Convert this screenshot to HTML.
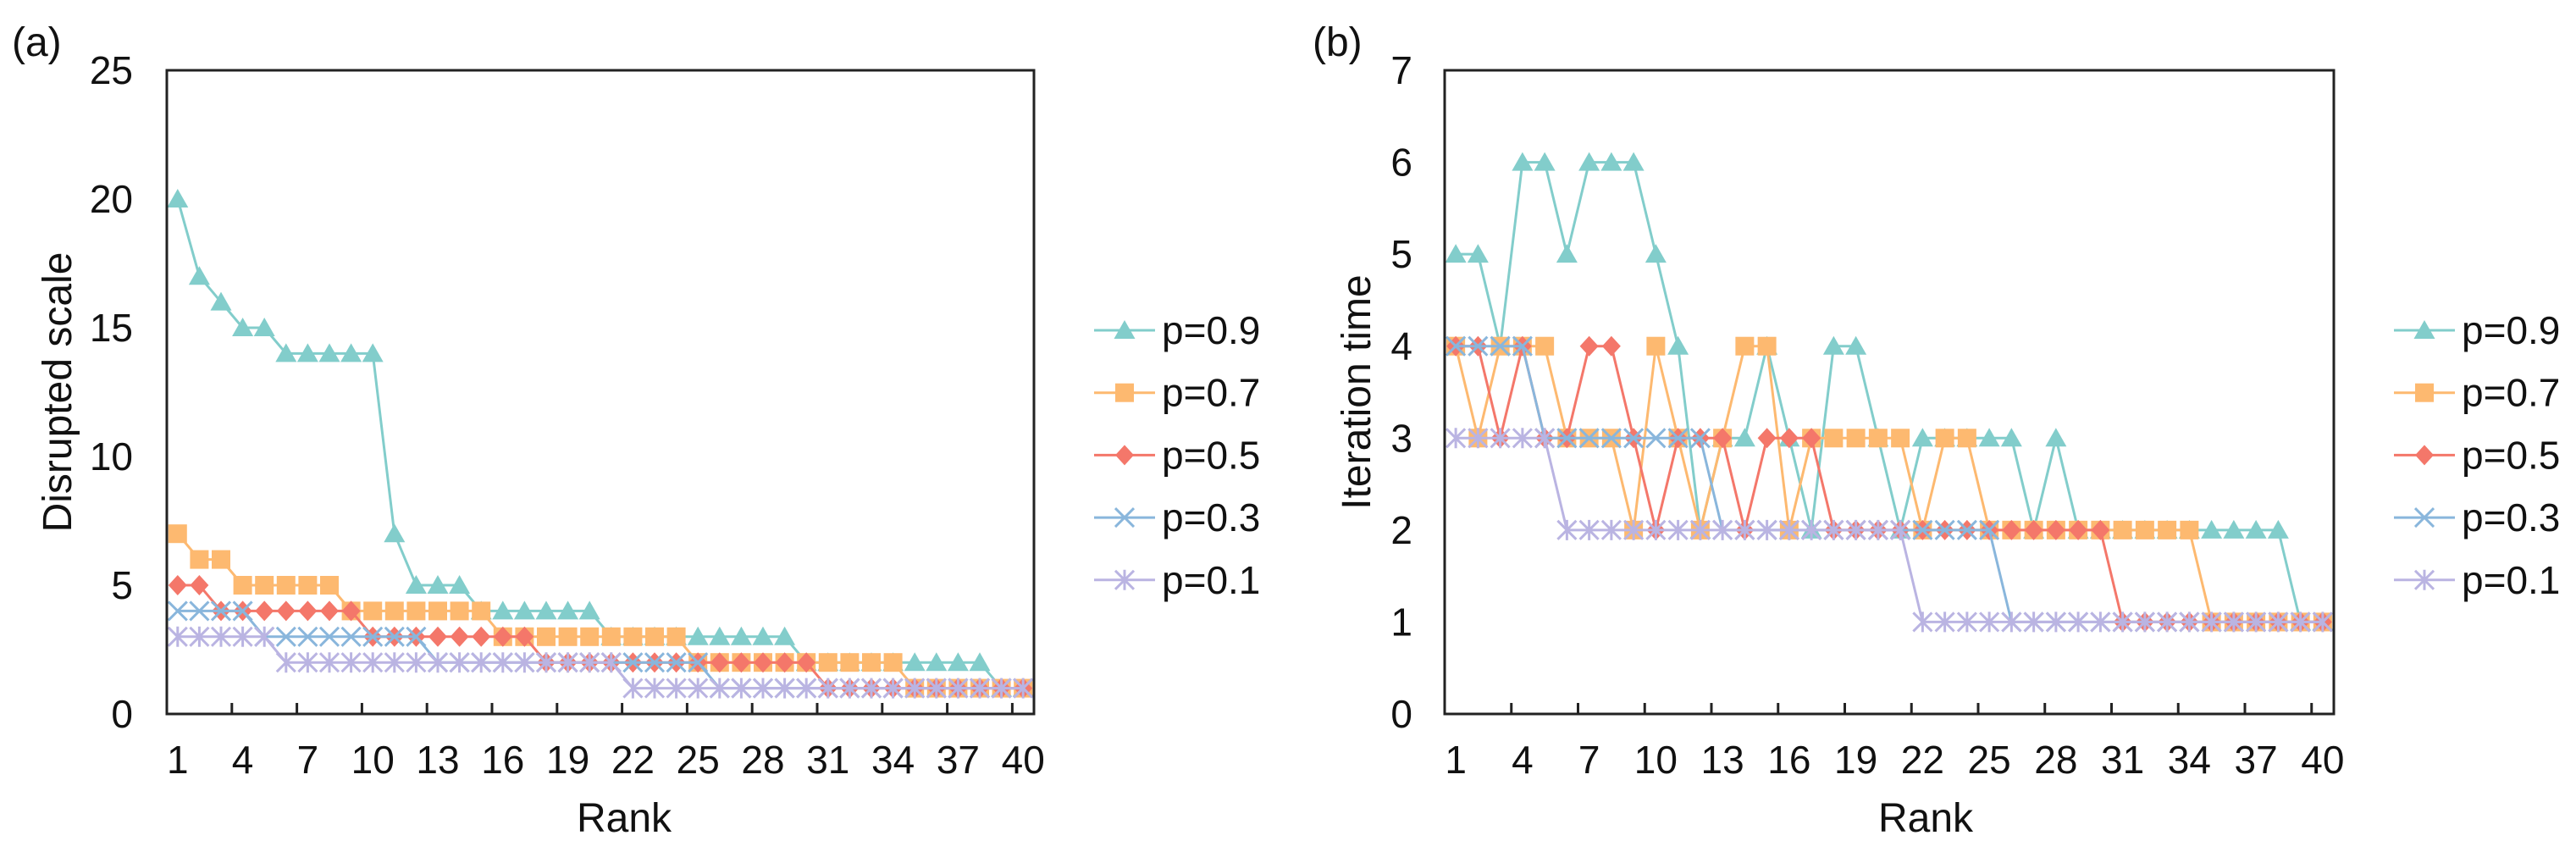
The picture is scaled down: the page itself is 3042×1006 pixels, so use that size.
<!DOCTYPE html>
<html><head><meta charset="utf-8"><style>
html,body{margin:0;padding:0;background:#fff;}
svg{display:block;font-family:"Liberation Sans",Arial,sans-serif;}
</style></head><body>
<svg id="fig" width="3042" height="1006" viewBox="0 0 3042 1006" xmlns="http://www.w3.org/2000/svg"></svg>
<script>
const ranks = Array.from({length:40},(_,i)=>i+1);
const seriesNames = ["p=0.9","p=0.7","p=0.5","p=0.3","p=0.1"];
const colors = ["#82cdcb","#fdb970","#f4776a","#89b6dc","#bab4e2"];
const markers = ["tri","sq","dia","x","star"];
// Panel (a): disrupted scale
const a09 = [20,17,16,15,15,14,14,14,14,14,7,5,5,5,4,4,4,4,4,4,3,3,3,3,3,3,3,3,3,2,2,2,2,2,2,2,2,2,1,1];
const a07 = [7,6,6,5,5,5,5,5,4,4,4,4,4,4,4,3,3,3,3,3,3,3,3,3,2,2,2,2,2,2,2,2,2,2,1,1,1,1,1,1];
const a05 = [5,5,4,4,4,4,4,4,4,3,3,3,3,3,3,3,3,2,2,2,2,2,2,2,2,2,2,2,2,2,1,1,1,1,1,1,1,1,1,1];
const a03 = [4,4,4,4,3,3,3,3,3,3,3,3,2,2,2,2,2,2,2,2,2,2,2,2,2,1,1,1,1,1,1,1,1,1,1,1,1,1,1,1];
const a01 = [3,3,3,3,3,2,2,2,2,2,2,2,2,2,2,2,2,2,2,2,2,1,1,1,1,1,1,1,1,1,1,1,1,1,1,1,1,1,1,1];
// Panel (b): iteration time
const b09 = [5,5,4,6,6,5,6,6,6,5,4,2,3,3,4,3,2,4,4,3,2,3,3,3,3,3,2,3,2,2,2,2,2,2,2,2,2,2,1,1];
const b07 = [4,3,4,4,4,3,3,3,2,4,3,2,3,4,4,2,3,3,3,3,3,2,3,3,2,2,2,2,2,2,2,2,2,2,1,1,1,1,1,1];
const b05 = [4,4,3,4,3,3,4,4,3,2,3,3,3,2,3,3,3,2,2,2,2,2,2,2,2,2,2,2,2,2,1,1,1,1,1,1,1,1,1,1];
const b03 = [4,4,4,4,3,3,3,3,3,3,3,3,2,2,2,2,2,2,2,2,2,2,2,2,2,1,1,1,1,1,1,1,1,1,1,1,1,1,1,1];
const b01 = [3,3,3,3,3,2,2,2,2,2,2,2,2,2,2,2,2,2,2,2,2,1,1,1,1,1,1,1,1,1,1,1,1,1,1,1,1,1,1,1];
const aTicks = [0,5,10,15,20,25];
const bTicks = [0,1,2,3,4,5,6,7];
const xTickLabels = [1,4,7,10,13,16,19,22,25,28,31,34,37,40];

const NS="http://www.w3.org/2000/svg";
const svg=document.getElementById('fig');
function mk(tag,attrs,parent){const e=document.createElementNS(NS,tag);for(const k in attrs)e.setAttribute(k,attrs[k]);(parent||svg).appendChild(e);return e;}

function marker(g,type,x,y,c){
  let e;
  if(type==="tri") e=mk('polygon',{points:`${x},${y-12} ${x-12.5},${y+10} ${x+12.5},${y+10}`,fill:c},g);
  else if(type==="sq") e=mk('rect',{x:x-11,y:y-11,width:22,height:22,fill:c},g);
  else if(type==="dia") e=mk('polygon',{points:`${x},${y-12} ${x+11},${y} ${x},${y+12} ${x-11},${y}`,fill:c},g);
  else if(type==="x"){e=mk('path',{d:`M${x-11} ${y-11}L${x+11} ${y+11}M${x+11} ${y-11}L${x-11} ${y+11}`,stroke:c,'stroke-width':3,fill:'none'},g);}
  else {e=mk('path',{d:`M${x-11} ${y-11}L${x+11} ${y+11}M${x+11} ${y-11}L${x-11} ${y+11}M${x} ${y-12}L${x} ${y+12}`,stroke:c,'stroke-width':3,fill:'none'},g);}
  
  
}

function panel(cfg){
  const {left,right,top,bottom,ymax,yticks,data,ytitle,ytitleX,ylabRight,letter,letterX,rankX,legendX,id}=cfg;
  const g=mk('g',{});
  
  
  const w=(right-left)/ranks.length;
  const xs=r=>left+(r-0.5)*w;
  const ys=v=>bottom-(v/ymax)*(bottom-top);
  data.forEach((arr,si)=>{
    const sg=mk('g',{},g);
    
    
    const pts=arr.map((v,i)=>xs(ranks[i])+','+ys(v)).join(' ');
    const pl=mk('polyline',{points:pts,fill:'none',stroke:colors[si],'stroke-width':3},sg);
    
    
    arr.forEach((v,i)=>marker(sg,markers[si],xs(ranks[i]),ys(v),colors[si]));
  });
  const fr=mk('rect',{x:left,y:top,width:right-left,height:bottom-top,fill:'none',stroke:'#222','stroke-width':3},g);
  
  
  for(let k=3;k<=39;k+=3){
    const tx=left+k*w;
    const t=mk('line',{x1:tx,x2:tx,y1:bottom,y2:bottom-13,stroke:'#222','stroke-width':3},g);
    
    
  }
  xTickLabels.forEach(r=>{
    const t=mk('text',{x:xs(r),y:913,'font-size':46,'text-anchor':'middle',fill:'#111'},g);
    t.textContent=r;
    
    
  });
  yticks.forEach(v=>{
    const t=mk('text',{x:ylabRight,y:ys(v)+16,'font-size':46,'text-anchor':'end',fill:'#111'},g);
    t.textContent=v;
    
    
  });
  const xt=mk('text',{x:rankX,y:982,'font-size':48,'text-anchor':'middle',fill:'#111'},g);
  xt.textContent='Rank';
  
  
  const cy=(top+bottom)/2;
  const yt=mk('text',{x:ytitleX,y:cy,'font-size':48,'text-anchor':'middle',fill:'#111',transform:`rotate(-90 ${ytitleX} ${cy})`},g);
  yt.textContent=ytitle;
  
  
  const lt=mk('text',{x:letterX,y:66,'font-size':48,fill:'#111'},g);
  lt.textContent=letter;
  
  
  const lg=mk('g',{},g);
  
  
  seriesNames.forEach((n,i)=>{
    const ly=390+i*73.7;
    const eg=mk('g',{},lg);
    
    
    mk('line',{x1:legendX,x2:legendX+72,y1:ly,y2:ly,stroke:colors[i],'stroke-width':3},eg);
    marker(eg,markers[i],legendX+36,ly,colors[i]);
    const t=mk('text',{x:legendX+80,y:ly+16,'font-size':46,fill:'#111'},eg);
    t.textContent=n;
  });
}

panel({id:'disrupted-scale',left:197,right:1221,top:83,bottom:843,ymax:25,yticks:aTicks,
  data:[a09,a07,a05,a03,a01],ytitle:'Disrupted scale',ytitleX:84,ylabRight:157,letter:'(a)',letterX:14,rankX:737,legendX:1292});
panel({id:'iteration-time',left:1706,right:2756,top:83,bottom:843,ymax:7,yticks:bTicks,
  data:[b09,b07,b05,b03,b01],ytitle:'Iteration time',ytitleX:1618,ylabRight:1668,letter:'(b)',letterX:1550,rankX:2274,legendX:2827});
</script>
</body></html>
